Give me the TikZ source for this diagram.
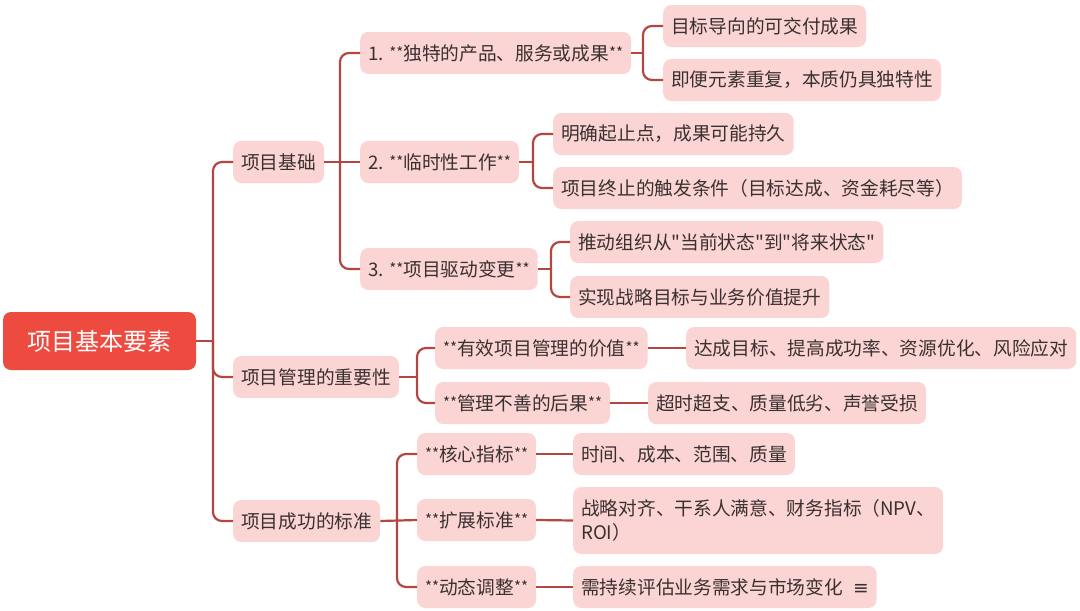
\documentclass[tikz,border=0pt]{standalone}
\usepackage{fontspec}
\newfontfamily\cjkfont{Noto Sans CJK SC}
\newfontfamily\symfont{DejaVu Sans}
\definecolor{rootred}{HTML}{EE4B40}
\definecolor{boxpink}{HTML}{FAD5D3}
\definecolor{linkred}{HTML}{B5463F}
\definecolor{inkgray}{HTML}{3A3030}
\newcommand\dstars{\raisebox{1.5pt}{\fontsize{15}{15}\selectfont**}}

\begin{document}
\begin{tikzpicture}[x=1pt,y=-1pt,
  topic/.style={fill=boxpink, rounded corners=8pt, minimum height=42pt,
    inner xsep=8pt, anchor=west, text=inkgray,
    font=\cjkfont\fontsize{18.7}{24}\selectfont},
  link/.style={draw=linkred, line width=2.2pt, rounded corners=9pt}]

\useasboundingbox (0,0) rectangle (1080,611);

% Root
\node (root) at (99.5,341)
[fill=rootred, rounded corners=8pt, minimum width=193pt, minimum height=58pt,
 text=white, font=\cjkfont\fontsize{24}{28}\selectfont]
{项目基本要素};

% First level
\node[topic] (base) at (233,162)
{项目基础};
\node[topic] (value) at (233,377)
{项目管理的重要性};
\node[topic] (success) at (233,521)
{项目成功的标准};

% Second level: 项目基础
\node[topic] (unique) at (360,53)
{1. \dstars 独特的产品、服务或成果\dstars};
\node[topic] (temp) at (360,162)
{2. \dstars 临时性工作\dstars};
\node[topic] (change) at (360,269)
{3. \dstars 项目驱动变更\dstars};

% Second level: 项目管理的重要性
\node[topic] (good) at (435,348)
{\dstars 有效项目管理的价值\dstars};
\node[topic] (bad) at (435,403)
{\dstars 管理不善的后果\dstars};

% Second level: 项目成功的标准
\node[topic] (core) at (417,454)
{\dstars 核心指标\dstars};
\node[topic] (ext) at (417,520)
{\dstars 扩展标准\dstars};
\node[topic] (dyn) at (417,587)
{\dstars 动态调整\dstars};

% Third level
\node[topic] (u1) at (663,26)
{目标导向的可交付成果};
\node[topic] (u2) at (663,80)
{即便元素重复，本质仍具独特性};
\node[topic] (t1) at (553,134)
{明确起止点，成果可能持久};
\node[topic] (t2) at (553,188)
{项目终止的触发条件（目标达成、资金耗尽等）};
\node[topic] (c1) at (570,242)
{推动组织从"当前状态"到"将来状态"};
\node[topic] (c2) at (570,297)
{实现战略目标与业务价值提升};
\node[topic] (g1) at (686,348)
{达成目标、提高成功率、资源优化、风险应对};
\node[topic] (b1) at (648,403)
{超时超支、质量低劣、声誉受损};
\node[topic] (k1) at (573,454)
{时间、成本、范围、质量};
\node[topic, align=left, minimum height=67pt] (e1) at (573,520.5)
{战略对齐、干系人满意、财务指标（NPV、\\ROI）};
\node[topic] (d1) at (573,587)
{需持续评估业务需求与市场变化\hspace{10pt}{\symfont ≡}};

% Junctions
\coordinate (jroot) at (213,341);
\coordinate (jbase) at (340,162);
\coordinate (jvalue) at (417,377);
\coordinate (jsucc) at (397,520);
\coordinate (juniq) at (643,53);
\coordinate (jtemp) at (533,162);
\coordinate (jchg) at (551,269);

% Connectors
\draw[link] (root.east) -- (jroot);
\foreach \n in {base,value,success}
  \draw[link] (jroot) |- (\n.west);

\draw[link] (base.east) -- (temp.west);
\foreach \n in {unique,change}
  \draw[link] (jbase) |- (\n.west);

\draw[link] (value.east) -- (jvalue);
\foreach \n in {good,bad}
  \draw[link] (jvalue) |- (\n.west);

\draw[link] (success.east) -- (ext.west);
\foreach \n in {core,dyn}
  \draw[link] (jsucc) |- (\n.west);

\draw[link] (unique.east) -- (juniq);
\foreach \n in {u1,u2}
  \draw[link] (juniq) |- (\n.west);

\draw[link] (temp.east) -- (jtemp);
\foreach \n in {t1,t2}
  \draw[link] (jtemp) |- (\n.west);

\draw[link] (change.east) -- (jchg);
\foreach \n in {c1,c2}
  \draw[link] (jchg) |- (\n.west);

\draw[link] (good.east) -- (g1.west);
\draw[link] (bad.east) -- (b1.west);
\draw[link] (core.east) -- (k1.west);
\draw[link] (ext.east) -- (e1.west);
\draw[link] (dyn.east) -- (d1.west);

\end{tikzpicture}
\end{document}
